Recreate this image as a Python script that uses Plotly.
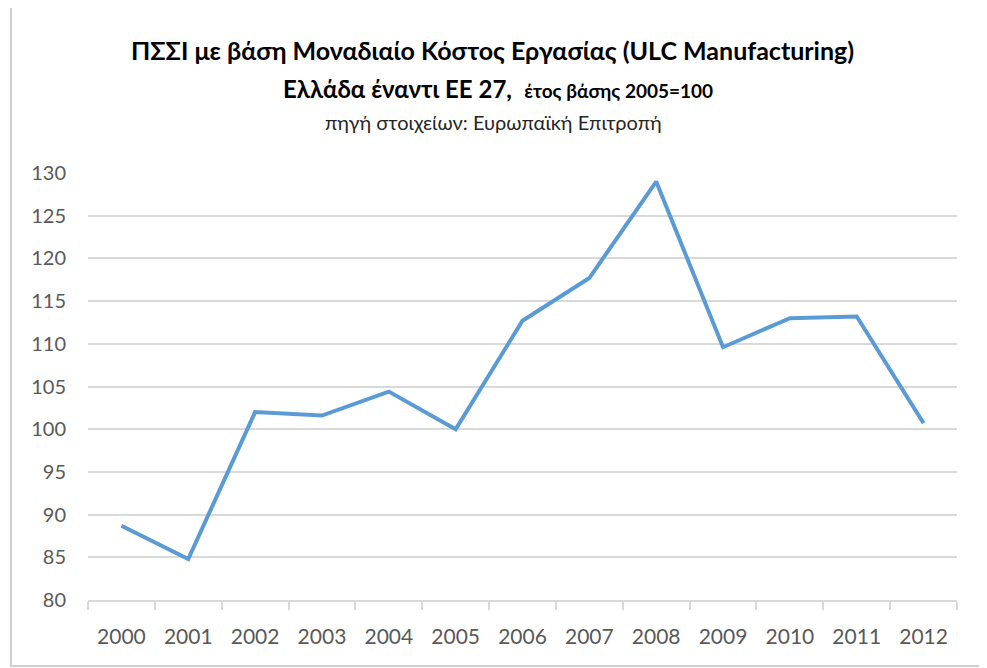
import plotly.graph_objects as go

years = ["2000", "2001", "2002", "2003", "2004", "2005", "2006",
         "2007", "2008", "2009", "2010", "2011", "2012"]
ulc_index = [88.7, 84.8, 102.0, 101.6, 104.4, 100.0, 112.7,
             117.7, 129.0, 109.6, 113.0, 113.2, 100.7]
y_ticks = [80, 85, 90, 95, 100, 105, 110, 115, 120, 125, 130]

W, H = 987, 668
OFF = 8  # page body margin
# target plot area on screen: x 88..957, y 173..600
L, T = 88 - OFF, 173 - OFF
R = W - (957 - OFF)
B = H - (600 - OFF)
ph = H - T - B
pw = W - L - R


def py(p):
    # screen pixel y -> paper
    return (H - B - (p - OFF)) / ph


def px(p):
    return ((p - OFF) - L) / pw


FONT = "Lato, 'Open Sans', sans-serif"

fig = go.Figure()
fig.add_trace(go.Scatter(
    x=years, y=ulc_index, mode="lines",
    line=dict(color="#5B9BD5", width=4, shape="linear"),
    showlegend=False, hoverinfo="x+y"))

fig.update_layout(
    width=W, height=H,
    margin=dict(l=L, r=R, t=T, b=B),
    paper_bgcolor="white", plot_bgcolor="white",
    font=dict(family=FONT, color="#595959"),
    xaxis=dict(type="category", range=[-0.5, 12.5],
               showgrid=False, showline=True, linecolor="#d9d9d9", linewidth=1.5,
               ticks="outside", tickson="boundaries", ticklen=8,
               tickcolor="#d9d9d9", tickwidth=1.5,
               tickfont=dict(size=21, color="#595959", family=FONT),
               ticklabelstandoff=17, zeroline=False),
    yaxis=dict(range=[80, 130], tickvals=y_ticks,
               showgrid=True, gridcolor="#d9d9d9", gridwidth=1.5,
               showline=False, zeroline=False, ticks="",
               tickfont=dict(size=20, color="#595959", family=FONT),
               ticklabelstandoff=21),
)

fig.add_annotation(text="<b>ΠΣΣΙ με βάση Μοναδιαίο Κόστος Εργασίας (ULC Manufacturing)</b>",
                   x=px(492), y=py(50), xref="paper", yref="paper",
                   showarrow=False, xanchor="center", yanchor="middle",
                   font=dict(size=25, color="#000000", family=FONT))
fig.add_annotation(text="<b>Ελλάδα έναντι ΕΕ 27,</b>  <b><span style='font-size:19px'>έτος βάσης 2005=100</span></b>",
                   x=px(498), y=py(88), xref="paper", yref="paper",
                   showarrow=False, xanchor="center", yanchor="middle",
                   font=dict(size=24, color="#000000", family=FONT))
fig.add_annotation(text="πηγή στοιχείων: Ευρωπαϊκή Επιτροπή",
                   x=px(493), y=py(122), xref="paper", yref="paper",
                   showarrow=False, xanchor="center", yanchor="middle",
                   font=dict(size=20, color="#262626", family=FONT))

fig.add_shape(type="rect", xref="paper", yref="paper",
              x0=px(11), x1=px(985), y0=py(666), y1=py(5),
              line=dict(color="#cfcfcf", width=2), fillcolor="rgba(0,0,0,0)",
              layer="above")

fig.write_html("out.html")
